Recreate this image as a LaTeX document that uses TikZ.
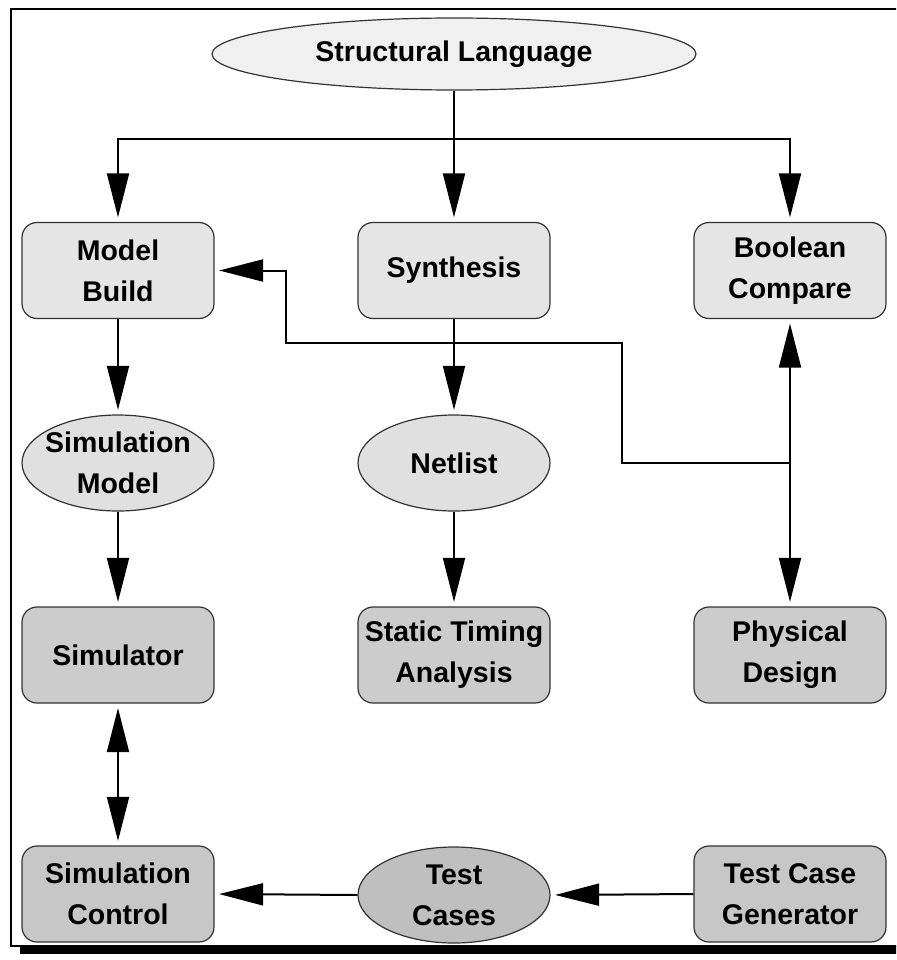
\documentclass[tikz,border=0pt]{standalone}
\usepackage{fontspec}
\setmainfont{Liberation Sans}
\usetikzlibrary{shapes.geometric,arrows.meta}
\begin{document}
\begin{tikzpicture}[x=1pt,y=-1pt,
  lbl/.style={font=\bfseries\fontsize{28.5}{41}\selectfont, align=center, inner sep=0pt},
  stepbox/.style={lbl, draw=black!80, line width=1.2pt, rounded corners=15pt,
    minimum width=192pt, minimum height=96pt},
  oval/.style={ellipse, draw=black!80, line width=1.2pt, inner sep=0pt,
    minimum width=192pt, minimum height=96pt},
  wire/.style={line width=2pt},
  arr/.style={wire, -{Triangle[length=44pt,width=22pt]}, shorten >=4.5pt},
  darr/.style={wire, {Triangle[length=44pt,width=22pt]}-{Triangle[length=44pt,width=22pt]},
    shorten >=4.5pt, shorten <=4.5pt}]
\useasboundingbox (0,0) rectangle (896,960);
\clip (0,0) rectangle (896,960);

% frame with drop shadow along the bottom
\fill[white] (0,0) rectangle (896,960);
\fill[black] (20,946) rectangle (900,954);
\draw[line width=2pt] (900,9) -- (11,9) -- (11,946) -- (900,946);

% source
\node[oval, fill=black!6, minimum width=484pt, minimum height=72pt] (sl) at (454,54) {};
\node[lbl] (slt) at (sl) {Structural Language};

% first row
\node[stepbox, fill=black!10] (mb) at (118,270.5) {Model\\Build};
\node[stepbox, fill=black!10] (syn) at (454,270.5) {Synthesis};
\node[stepbox, fill=black!10] (bc) at (790,270.5) {Boolean\\Compare};

% intermediate data
\node[oval, fill=black!12] (sm) at (118,463) {};
\node[lbl] (smt) at (sm) {Simulation\\Model};
\node[oval, fill=black!12] (nl) at (454,463) {};
\node[lbl] (nlt) at (nl) {Netlist};

% tools
\node[stepbox, fill=black!20] (sim) at (118,655) {Simulator};
\node[stepbox, fill=black!20] (sta) at (454,655) {Static Timing\\Analysis};
\node[stepbox, fill=black!20] (pd) at (790,655) {Physical\\Design};

% test loop
\node[stepbox, fill=black!22] (sc) at (118,894) {Simulation\\Control};
\node[oval, fill=black!25] (tc) at (454,895) {};
\node[lbl] (tct) at (tc) {Test\\Cases};
\node[stepbox, fill=black!22] (tcg) at (790,894) {Test Case\\Generator};

% fan-out from the structural description
\coordinate (fan) at (454,139);
\draw[wire] (sl.south) -- (fan);
\draw[arr] (fan) -| (mb.north);
\draw[arr] (fan) -- (syn.north);
\draw[arr] (fan) -| (bc.north);

% flows down the columns
\draw[arr] (mb.south) -- (sm.north);
\draw[arr] (sm.south) -- (sim.north);
\draw[arr] (syn.south) -- (nl.north);
\draw[arr] (nl.south) -- (sta.north);
\draw[darr] (bc.south) -- (pd.north);
\draw[darr] (sim.south) -- (sc.north);

% back-annotation from physical design
\coordinate (tap) at (790,463);
\draw[arr] (tap) -- (622,463) -- (622,343) -- (286,343) -- (286,270.5) -- (mb.east);

% test cases
\draw[arr] (tcg.west) -- (tc.east);
\draw[arr] (tc.west) -- (sc.east);
\end{tikzpicture}
\end{document}
